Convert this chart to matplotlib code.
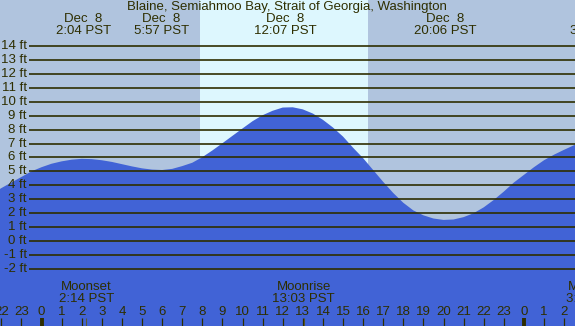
import numpy as np
import matplotlib
matplotlib.use("Agg")
import matplotlib.pyplot as plt

plt.rcParams['font.family'] = ['Liberation Sans', 'DejaVu Sans']

# tide height (ft), read every half hour, hours relative to midnight Dec 8
hours = np.arange(-2.5, 27.01, 0.5)
heights = [3.35, 3.8, 4.2, 4.6, 5.0, 5.3, 5.55, 5.72, 5.84, 5.9,
           5.88, 5.8, 5.68, 5.52, 5.36, 5.22, 5.13, 5.1, 5.18, 5.38,
           5.62, 6.02, 6.5, 7.02, 7.55, 8.08, 8.6, 9.03, 9.35, 9.58,
           9.6, 9.45, 9.15, 8.7, 8.15, 7.5, 6.7, 5.95, 5.1, 4.25,
           3.45, 2.75, 2.2, 1.85, 1.62, 1.52, 1.55, 1.72, 2.0, 2.42,
           2.95, 3.55, 4.2, 4.75, 5.3, 5.8, 6.2, 6.55, 6.88, 7.1]

# high / low tide events
tide_times = [2.07, 5.95, 12.12, 20.1, 27.64]
tide_dates = ['Dec  8', 'Dec  8', 'Dec  8', 'Dec  8', 'Dec  9']
tide_labels = ['2:04 PST', '5:57 PST', '12:07 PST', '20:06 PST', '3:38 PST']

# moon events
moon_times = [2.23, 13.05, 27.46]
moon_names = ['Moonset', 'Moonrise', 'Moonset']
moon_labels = ['2:14 PST', '13:03 PST', '3:28 PST']

sunrise, sunset = 7.88, 16.25
ft_ticks = list(range(-2, 15))
hour_ticks = list(range(-2, 27))

title = 'Blaine, Semiahmoo Bay, Strait of Georgia, Washington'

# pixel -> data helpers (image is 575x326)
px_per_hour = 20.1
x0_px = 41.5
y0_px = 241.1
px_per_ft = 13.94


def hx(px):
    return (px - x0_px) / px_per_hour


def fy(py):
    return (y0_px - py) / px_per_ft


night = '#B0C4DE'
day = '#DDF7FE'
water = '#4163D6'
ink = '#2E2E00'
fs = 9.5

fig = plt.figure(figsize=(5.75, 3.26), dpi=100)
ax = fig.add_axes([0, 0, 1, 1])
ax.set_xlim(hx(0), hx(575))
ax.set_ylim(fy(326), fy(0))
ax.axis('off')
fig.patch.set_facecolor(night)

ax.axvspan(hx(-10), hx(600), color=night, zorder=0, lw=0)
ax.axvspan(sunrise, sunset, color=day, zorder=0.5, lw=0)

ax.fill_between(hours, heights, fy(330), color=water, lw=0, zorder=1)

# horizontal ft lines + labels
ax.hlines(ft_ticks, hx(29), hx(580), color=ink, lw=1.2, zorder=2)
for v in ft_ticks:
    ax.text(hx(27), v, f'{v} ft', ha='right', va='center', fontsize=fs, color=ink, zorder=3)

ax.text(hx(287), fy(7), title, ha='center', va='center', fontsize=fs, color=ink)
for t, d, lab in zip(tide_times, tide_dates, tide_labels):
    ax.text(t, fy(19), d, ha='center', va='center', fontsize=fs, color=ink)
    ax.text(t, fy(31), lab, ha='center', va='center', fontsize=fs, color=ink)

for t, n, lab in zip(moon_times, moon_names, moon_labels):
    ax.text(t, fy(287), n, ha='center', va='center', fontsize=fs, color=ink)
    ax.text(t, fy(299), lab, ha='center', va='center', fontsize=fs, color=ink)
    ax.vlines(t, fy(318), fy(326), color='#5a5a30', lw=0.8, zorder=3)

# hour ticks along the bottom
for h in hour_ticks:
    ax.text(h, fy(312), str(h % 24), ha='center', va='center', fontsize=fs, color=ink)
    lw = 2.8 if h % 24 == 0 else 0.9
    ax.vlines(h, fy(318), fy(326), color=ink, lw=lw, zorder=3)

fig.savefig('out.png', dpi=100, facecolor=night)
